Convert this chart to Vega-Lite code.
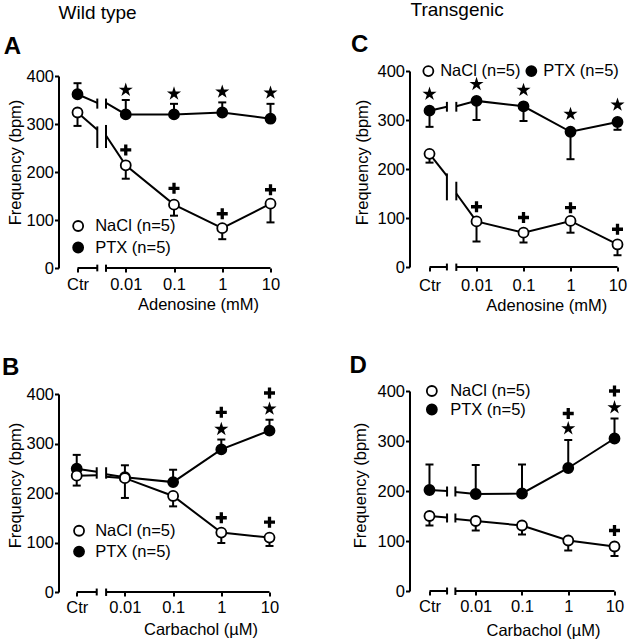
{
  "$schema": "https://vega.github.io/schema/vega-lite/v6.json",
  "padding": {"left": 1.5, "top": 1, "right": 0, "bottom": 0},
  "autosize": {"type": "pad"},
  "background": "white",
  "datasets": {
    "A": [
      {"k":"ax","x":0,"x2":0.41,"v":0},
      {"k":"ax","x":0.59,"x2":4,"v":0},
      {"k":"cap","x":0.41,"v":-7,"e":7},
      {"k":"cap","x":0.59,"v":-8,"e":7},
      {"k":"cap","x":0.41,"v":332,"e":353},
      {"k":"cap","x":0.59,"v":332,"e":353},
      {"k":"cap","x":0.41,"v":250,"e":295},
      {"k":"cap","x":0.59,"v":250,"e":298},
      {"k":"brk","g":"PTX","s":"L","x":0.41,"v":344},
      {"k":"brk","g":"PTX","s":"R","x":0.59,"v":344},
      {"k":"brk","g":"NaCl","s":"L","x":0.41,"v":288},
      {"k":"brk","g":"NaCl","s":"R","x":0.59,"v":276},
      {"k":"pt","g":"PTX","s":"L","x":0,"v":362,"e":385},
      {"k":"pt","g":"PTX","s":"R","x":1,"v":320,"e":350},
      {"k":"pt","g":"PTX","s":"R","x":2,"v":320,"e":342},
      {"k":"pt","g":"PTX","s":"R","x":3,"v":324,"e":345},
      {"k":"pt","g":"PTX","s":"R","x":4,"v":311,"e":342},
      {"k":"pt","g":"NaCl","s":"L","x":0,"v":324,"e":296},
      {"k":"pt","g":"NaCl","s":"R","x":1,"v":214,"e":186},
      {"k":"pt","g":"NaCl","s":"R","x":2,"v":132,"e":109},
      {"k":"pt","g":"NaCl","s":"R","x":3,"v":83,"e":60},
      {"k":"pt","g":"NaCl","s":"R","x":4,"v":134,"e":95},
      {"k":"star","x":1,"v":371},
      {"k":"star","x":2,"v":363},
      {"k":"star","x":3,"v":367},
      {"k":"star","x":4,"v":365},
      {"k":"plus","x":1,"v":246},
      {"k":"plus","x":2,"v":166},
      {"k":"plus","x":3,"v":113},
      {"k":"plus","x":4,"v":163}
    ],
    "B": [
      {"k":"ax","x":0,"x2":0.415,"v":0},
      {"k":"ax","x":0.61,"x2":4,"v":0},
      {"k":"cap","x":0.415,"v":-7,"e":7},
      {"k":"cap","x":0.61,"v":-8,"e":7},
      {"k":"cap","x":0.415,"v":229,"e":252},
      {"k":"cap","x":0.61,"v":229,"e":252},
      {"k":"brk","g":"PTX","s":"L","x":0.415,"v":243},
      {"k":"brk","g":"PTX","s":"R","x":0.61,"v":238},
      {"k":"brk","g":"NaCl","s":"L","x":0.415,"v":236},
      {"k":"brk","g":"NaCl","s":"R","x":0.61,"v":233},
      {"k":"pt","g":"PTX","s":"L","x":0,"v":249,"e":277},
      {"k":"pt","g":"PTX","s":"R","x":1,"v":232,"e":256},
      {"k":"pt","g":"PTX","s":"R","x":2,"v":222,"e":247},
      {"k":"pt","g":"PTX","s":"R","x":3,"v":288,"e":308},
      {"k":"pt","g":"PTX","s":"R","x":4,"v":326,"e":348},
      {"k":"pt","g":"NaCl","s":"L","x":0,"v":235,"e":215},
      {"k":"pt","g":"NaCl","s":"R","x":1,"v":230,"e":190},
      {"k":"pt","g":"NaCl","s":"R","x":2,"v":194,"e":173},
      {"k":"pt","g":"NaCl","s":"R","x":3,"v":120,"e":99},
      {"k":"pt","g":"NaCl","s":"R","x":4,"v":110,"e":93},
      {"k":"star","x":3,"v":329},
      {"k":"star","x":4,"v":370},
      {"k":"plus","x":3,"v":363},
      {"k":"plus","x":4,"v":402},
      {"k":"plus","x":3,"v":150},
      {"k":"plus","x":4,"v":141}
    ],
    "C": [
      {"k":"ax","x":0,"x2":0.37,"v":0},
      {"k":"ax","x":0.57,"x2":4,"v":0},
      {"k":"cap","x":0.37,"v":-7,"e":7},
      {"k":"cap","x":0.57,"v":-8,"e":7},
      {"k":"cap","x":0.37,"v":317,"e":337},
      {"k":"cap","x":0.57,"v":317,"e":337},
      {"k":"cap","x":0.37,"v":136,"e":191},
      {"k":"cap","x":0.57,"v":136,"e":174},
      {"k":"brk","g":"PTX","s":"L","x":0.37,"v":327},
      {"k":"brk","g":"PTX","s":"R","x":0.57,"v":328},
      {"k":"brk","g":"NaCl","s":"L","x":0.37,"v":186},
      {"k":"brk","g":"NaCl","s":"R","x":0.57,"v":150},
      {"k":"pt","g":"PTX","s":"L","x":0,"v":319,"e":286},
      {"k":"pt","g":"PTX","s":"R","x":1,"v":339,"e":300},
      {"k":"pt","g":"PTX","s":"R","x":2,"v":328,"e":298},
      {"k":"pt","g":"PTX","s":"R","x":3,"v":276,"e":220},
      {"k":"pt","g":"PTX","s":"R","x":4,"v":296,"e":280},
      {"k":"pt","g":"NaCl","s":"L","x":0,"v":231,"e":213},
      {"k":"pt","g":"NaCl","s":"R","x":1,"v":93,"e":52},
      {"k":"pt","g":"NaCl","s":"R","x":2,"v":70,"e":50},
      {"k":"pt","g":"NaCl","s":"R","x":3,"v":94,"e":70},
      {"k":"pt","g":"NaCl","s":"R","x":4,"v":46,"e":24},
      {"k":"star","x":0,"v":353},
      {"k":"star","x":1,"v":373},
      {"k":"star","x":2,"v":361},
      {"k":"star","x":3,"v":312},
      {"k":"star","x":4,"v":331},
      {"k":"plus","x":1,"v":123},
      {"k":"plus","x":2,"v":101},
      {"k":"plus","x":3,"v":121},
      {"k":"plus","x":4,"v":77}
    ],
    "D": [
      {"k":"ax","x":0,"x2":0.38,"v":0},
      {"k":"ax","x":0.56,"x2":4,"v":0},
      {"k":"cap","x":0.38,"v":-7,"e":7},
      {"k":"cap","x":0.56,"v":-8,"e":7},
      {"k":"cap","x":0.38,"v":189,"e":209},
      {"k":"cap","x":0.56,"v":189,"e":209},
      {"k":"cap","x":0.38,"v":137,"e":155},
      {"k":"cap","x":0.56,"v":137,"e":155},
      {"k":"brk","g":"PTX","s":"L","x":0.38,"v":200},
      {"k":"brk","g":"PTX","s":"R","x":0.56,"v":198},
      {"k":"brk","g":"NaCl","s":"L","x":0.38,"v":147},
      {"k":"brk","g":"NaCl","s":"R","x":0.56,"v":144},
      {"k":"pt","g":"PTX","s":"L","x":0,"v":202,"e":253},
      {"k":"pt","g":"PTX","s":"R","x":1,"v":194,"e":252},
      {"k":"pt","g":"PTX","s":"R","x":2,"v":195,"e":253},
      {"k":"pt","g":"PTX","s":"R","x":3,"v":246,"e":302},
      {"k":"pt","g":"PTX","s":"R","x":4,"v":305,"e":345},
      {"k":"pt","g":"NaCl","s":"L","x":0,"v":150,"e":131},
      {"k":"pt","g":"NaCl","s":"R","x":1,"v":140,"e":121},
      {"k":"pt","g":"NaCl","s":"R","x":2,"v":131,"e":113},
      {"k":"pt","g":"NaCl","s":"R","x":3,"v":101,"e":81},
      {"k":"pt","g":"NaCl","s":"R","x":4,"v":89,"e":70},
      {"k":"star","x":3,"v":325},
      {"k":"star","x":4,"v":367},
      {"k":"plus","x":3,"v":355},
      {"k":"plus","x":4,"v":400},
      {"k":"plus","x":4,"v":121}
    ]
  },
  "hconcat": [
    {
      "title": {"text": "Wild type", "anchor": "start", "frame": "group", "fontSize": 19, "fontWeight": "normal", "font": "Liberation Sans", "baseline": "alphabetic", "offset": -2.6, "color": "black"},
      "vconcat": [
        {
          "width": 212, "height": 197,
          "title": {"text": "A", "anchor": "start", "frame": "group", "dx": -54.7, "offset": -10.25, "fontSize": 24, "fontWeight": "bold", "font": "Liberation Sans", "baseline": "alphabetic", "color": "black"},
          "data": {"name": "A"},
          "encoding": {
            "x": {"field": "x", "type": "quantitative", "title": "Adenosine (mM)", "scale": {"domain": [-0.394, 4], "nice": false, "zero": false},
              "axis": {"values": [0,1,2,3,4], "labelExpr": "['Ctr','0.01','0.1','1','10'][datum.value]", "domain": false, "tickSize": 4, "labelBaseline": "alphabetic", "labelPadding": 17.7, "titleX": 139.5, "titleY": 41.7, "titleBaseline": "alphabetic", "titleAlign": "center"}},
            "y": {"field": "v", "type": "quantitative", "title": "Frequency (bpm)", "scale": {"domain": [0, 400], "range": [197, 5], "nice": false},
              "axis": {"values": [0,100,200,300,400], "tickSize": 4, "labelPadding": 1, "titleX": -38, "titleY": 91, "titleBaseline": "alphabetic", "titleAlign": "center", "titleAngle": 270}}
          },
          "layer": [
            {"transform": [{"filter": "datum.k=='ax'"}], "mark": {"type": "rule", "strokeWidth": 2, "color": "black"}, "encoding": {"x2": {"field": "x2"}}},
            {"transform": [{"filter": "datum.k=='pt'||datum.k=='cap'"}], "mark": {"type": "rule", "strokeWidth": 2, "color": "black"}, "encoding": {"y2": {"field": "e"}}},
            {"transform": [{"filter": "datum.k=='pt'"}], "mark": {"type": "tick", "orient": "horizontal", "size": 8, "thickness": 2, "color": "black", "opacity": 1},
              "encoding": {"y": {"field": "e", "type": "quantitative", "title": "Frequency (bpm)", "scale": {"domain": [0, 400], "range": [197, 5], "nice": false}}}},
            {"transform": [{"filter": "datum.k=='pt'||datum.k=='brk'"}], "mark": {"type": "line", "strokeWidth": 2, "color": "black"}, "encoding": {"detail": [{"field": "g"}, {"field": "s"}]}},
            {"transform": [{"filter": "datum.k=='pt'"}], "mark": {"type": "point", "filled": true, "stroke": "black", "strokeWidth": 1.8, "size": 100, "opacity": 1},
              "encoding": {"fill": {"field": "g", "type": "nominal", "scale": {"domain": ["NaCl", "PTX"], "range": ["white", "black"]},
                "legend": {"title": null, "orient": "none", "legendX": 11.4, "legendY": 146.75, "direction": "vertical", "rowPadding": 3.5, "labelOffset": 8.8, "labelExpr": "datum.label + ' (n=5)'"}}}},
            {"transform": [{"filter": "datum.k=='star'"}], "mark": {"type": "point", "shape": "M0,-1L0.2245,-0.309L0.951,-0.309L0.363,0.118L0.588,0.809L0,0.382L-0.588,0.809L-0.363,0.118L-0.951,-0.309L-0.2245,-0.309Z", "filled": true, "color": "black", "size": 220, "opacity": 1}},
            {"transform": [{"filter": "datum.k=='plus'"}], "mark": {"type": "point", "shape": "M-1,-0.3H-0.3V-1H0.3V-0.3H1V0.3H0.3V1H-0.3V0.3H-1Z", "filled": true, "color": "black", "size": 121, "opacity": 1}}
          ]
        },
        {
          "width": 211, "height": 200,
          "title": {"text": "B", "anchor": "start", "frame": "group", "dx": -56.5, "offset": -12.85, "fontSize": 24, "fontWeight": "bold", "font": "Liberation Sans", "baseline": "alphabetic", "color": "black"},
          "data": {"name": "B"},
          "encoding": {
            "x": {"field": "x", "type": "quantitative", "title": "Carbachol (µM)", "scale": {"domain": [-0.378, 4], "nice": false, "zero": false},
              "axis": {"values": [0,1,2,3,4], "labelExpr": "['Ctr','0.01','0.1','1','10'][datum.value]", "domain": false, "tickSize": 4, "labelBaseline": "alphabetic", "labelPadding": 16, "titleX": 142, "titleY": 42, "titleBaseline": "alphabetic", "titleAlign": "center"}},
            "y": {"field": "v", "type": "quantitative", "title": "Frequency (bpm)", "scale": {"domain": [0, 400], "range": [200, 2], "nice": false},
              "axis": {"values": [0,100,200,300,400], "tickSize": 4, "labelPadding": 1, "titleX": -38.5, "titleY": 93, "titleBaseline": "alphabetic", "titleAlign": "center", "titleAngle": 270}}
          },
          "layer": [
            {"transform": [{"filter": "datum.k=='ax'"}], "mark": {"type": "rule", "strokeWidth": 2, "color": "black"}, "encoding": {"x2": {"field": "x2"}}},
            {"transform": [{"filter": "datum.k=='pt'||datum.k=='cap'"}], "mark": {"type": "rule", "strokeWidth": 2, "color": "black"}, "encoding": {"y2": {"field": "e"}}},
            {"transform": [{"filter": "datum.k=='pt'"}], "mark": {"type": "tick", "orient": "horizontal", "size": 8, "thickness": 2, "color": "black", "opacity": 1},
              "encoding": {"y": {"field": "e", "type": "quantitative", "title": "Frequency (bpm)", "scale": {"domain": [0, 400], "range": [200, 2], "nice": false}}}},
            {"transform": [{"filter": "datum.k=='pt'||datum.k=='brk'"}], "mark": {"type": "line", "strokeWidth": 2, "color": "black"}, "encoding": {"detail": [{"field": "g"}, {"field": "s"}]}},
            {"transform": [{"filter": "datum.k=='pt'"}], "mark": {"type": "point", "filled": true, "stroke": "black", "strokeWidth": 1.8, "size": 100, "opacity": 1},
              "encoding": {"fill": {"field": "g", "type": "nominal", "scale": {"domain": ["NaCl", "PTX"], "range": ["white", "black"]},
                "legend": {"title": null, "orient": "none", "legendX": 12.3, "legendY": 130.5, "direction": "vertical", "rowPadding": 2.8, "labelOffset": 7.9, "labelExpr": "datum.label + ' (n=5)'"}}}},
            {"transform": [{"filter": "datum.k=='star'"}], "mark": {"type": "point", "shape": "M0,-1L0.2245,-0.309L0.951,-0.309L0.363,0.118L0.588,0.809L0,0.382L-0.588,0.809L-0.363,0.118L-0.951,-0.309L-0.2245,-0.309Z", "filled": true, "color": "black", "size": 220, "opacity": 1}},
            {"transform": [{"filter": "datum.k=='plus'"}], "mark": {"type": "point", "shape": "M-1,-0.3H-0.3V-1H0.3V-0.3H1V0.3H0.3V1H-0.3V0.3H-1Z", "filled": true, "color": "black", "size": 121, "opacity": 1}}
          ]
        }
      ],
      "spacing": 124,
      "bounds": "flush",
      "resolve": {"scale": {"fill": "independent"}, "legend": {"fill": "independent"}}
    },
    {
      "title": {"text": "Transgenic", "anchor": "start", "frame": "group", "dx": 1, "fontSize": 19, "fontWeight": "normal", "font": "Liberation Sans", "baseline": "alphabetic", "offset": -2.4, "color": "black"},
      "vconcat": [
        {
          "width": 208, "height": 196,
          "title": {"text": "C", "anchor": "start", "frame": "group", "dx": -58.5, "offset": -12.85, "fontSize": 24, "fontWeight": "bold", "font": "Liberation Sans", "baseline": "alphabetic", "color": "black"},
          "data": {"name": "C"},
          "encoding": {
            "x": {"field": "x", "type": "quantitative", "title": "Adenosine (mM)", "scale": {"domain": [-0.426, 4], "nice": false, "zero": false},
              "axis": {"values": [0,1,2,3,4], "labelExpr": "['Ctr','0.01','0.1','1','10'][datum.value]", "domain": false, "tickSize": 4, "labelBaseline": "alphabetic", "labelPadding": 19.3, "titleX": 136.8, "titleY": 43.3, "titleBaseline": "alphabetic", "titleAlign": "center"}},
            "y": {"field": "v", "type": "quantitative", "title": "Frequency (bpm)", "scale": {"domain": [0, 400], "range": [196, 0], "nice": false},
              "axis": {"values": [0,100,200,300,400], "tickSize": 4, "labelPadding": 1, "titleX": -42.3, "titleY": 91, "titleBaseline": "alphabetic", "titleAlign": "center", "titleAngle": 270}}
          },
          "layer": [
            {"transform": [{"filter": "datum.k=='ax'"}], "mark": {"type": "rule", "strokeWidth": 2, "color": "black"}, "encoding": {"x2": {"field": "x2"}}},
            {"transform": [{"filter": "datum.k=='pt'||datum.k=='cap'"}], "mark": {"type": "rule", "strokeWidth": 2, "color": "black"}, "encoding": {"y2": {"field": "e"}}},
            {"transform": [{"filter": "datum.k=='pt'"}], "mark": {"type": "tick", "orient": "horizontal", "size": 8, "thickness": 2, "color": "black", "opacity": 1},
              "encoding": {"y": {"field": "e", "type": "quantitative", "title": "Frequency (bpm)", "scale": {"domain": [0, 400], "range": [196, 0], "nice": false}}}},
            {"transform": [{"filter": "datum.k=='pt'||datum.k=='brk'"}], "mark": {"type": "line", "strokeWidth": 2, "color": "black"}, "encoding": {"detail": [{"field": "g"}, {"field": "s"}]}},
            {"transform": [{"filter": "datum.k=='pt'"}], "mark": {"type": "point", "filled": true, "stroke": "black", "strokeWidth": 1.8, "size": 100, "opacity": 1},
              "encoding": {"fill": {"field": "g", "type": "nominal", "scale": {"domain": ["NaCl", "PTX"], "range": ["white", "black"]},
                "legend": {"title": null, "orient": "none", "legendX": 10.6, "legendY": -8.25, "direction": "horizontal", "columns": 2, "columnPadding": 1, "labelOffset": 3.6, "labelExpr": "datum.label + ' (n=5)'"}}}},
            {"transform": [{"filter": "datum.k=='star'"}], "mark": {"type": "point", "shape": "M0,-1L0.2245,-0.309L0.951,-0.309L0.363,0.118L0.588,0.809L0,0.382L-0.588,0.809L-0.363,0.118L-0.951,-0.309L-0.2245,-0.309Z", "filled": true, "color": "black", "size": 220, "opacity": 1}},
            {"transform": [{"filter": "datum.k=='plus'"}], "mark": {"type": "point", "shape": "M-1,-0.3H-0.3V-1H0.3V-0.3H1V0.3H0.3V1H-0.3V0.3H-1Z", "filled": true, "color": "black", "size": 121, "opacity": 1}}
          ]
        },
        {
          "width": 205, "height": 200,
          "title": {"text": "D", "anchor": "start", "frame": "group", "dx": -60, "offset": -14.65, "fontSize": 24, "fontWeight": "bold", "font": "Liberation Sans", "baseline": "alphabetic", "color": "black"},
          "data": {"name": "D"},
          "encoding": {
            "x": {"field": "x", "type": "quantitative", "title": "Carbachol (µM)", "scale": {"domain": [-0.432, 4], "nice": false, "zero": false},
              "axis": {"values": [0,1,2,3,4], "labelExpr": "['Ctr','0.01','0.1','1','10'][datum.value]", "domain": false, "tickSize": 4, "labelBaseline": "alphabetic", "labelPadding": 16, "titleX": 133.5, "titleY": 44, "titleBaseline": "alphabetic", "titleAlign": "center"}},
            "y": {"field": "v", "type": "quantitative", "title": "Frequency (bpm)", "scale": {"domain": [0, 400], "range": [200, 0], "nice": false},
              "axis": {"values": [0,100,200,300,400], "tickSize": 4, "labelPadding": 1, "titleX": -44, "titleY": 94, "titleBaseline": "alphabetic", "titleAlign": "center", "titleAngle": 270}}
          },
          "layer": [
            {"transform": [{"filter": "datum.k=='ax'"}], "mark": {"type": "rule", "strokeWidth": 2, "color": "black"}, "encoding": {"x2": {"field": "x2"}}},
            {"transform": [{"filter": "datum.k=='pt'||datum.k=='cap'"}], "mark": {"type": "rule", "strokeWidth": 2, "color": "black"}, "encoding": {"y2": {"field": "e"}}},
            {"transform": [{"filter": "datum.k=='pt'"}], "mark": {"type": "tick", "orient": "horizontal", "size": 8, "thickness": 2, "color": "black", "opacity": 1},
              "encoding": {"y": {"field": "e", "type": "quantitative", "title": "Frequency (bpm)", "scale": {"domain": [0, 400], "range": [200, 0], "nice": false}}}},
            {"transform": [{"filter": "datum.k=='pt'||datum.k=='brk'"}], "mark": {"type": "line", "strokeWidth": 2, "color": "black"}, "encoding": {"detail": [{"field": "g"}, {"field": "s"}]}},
            {"transform": [{"filter": "datum.k=='pt'"}], "mark": {"type": "point", "filled": true, "stroke": "black", "strokeWidth": 1.8, "size": 100, "opacity": 1},
              "encoding": {"fill": {"field": "g", "type": "nominal", "scale": {"domain": ["NaCl", "PTX"], "range": ["white", "black"]},
                "legend": {"title": null, "orient": "none", "legendX": 14.1, "legendY": -8.25, "direction": "vertical", "rowPadding": 0.5, "labelOffset": 10.1, "labelExpr": "datum.label + ' (n=5)'"}}}},
            {"transform": [{"filter": "datum.k=='star'"}], "mark": {"type": "point", "shape": "M0,-1L0.2245,-0.309L0.951,-0.309L0.363,0.118L0.588,0.809L0,0.382L-0.588,0.809L-0.363,0.118L-0.951,-0.309L-0.2245,-0.309Z", "filled": true, "color": "black", "size": 220, "opacity": 1}},
            {"transform": [{"filter": "datum.k=='plus'"}], "mark": {"type": "point", "shape": "M-1,-0.3H-0.3V-1H0.3V-0.3H1V0.3H0.3V1H-0.3V0.3H-1Z", "filled": true, "color": "black", "size": 121, "opacity": 1}}
          ]
        }
      ],
      "spacing": 124,
      "bounds": "flush",
      "resolve": {"scale": {"fill": "independent"}, "legend": {"fill": "independent"}}
    }
  ],
  "spacing": 351,
  "bounds": "flush",
  "resolve": {"scale": {"fill": "independent"}, "legend": {"fill": "independent"}},
  "config": {
    "view": {"stroke": null},
    "font": "Liberation Sans",
    "axis": {"labelFont": "Liberation Sans", "titleFont": "Liberation Sans", "labelFontSize": 16.5, "titleFontSize": 16.5, "labelColor": "black", "titleColor": "black", "titleFontWeight": "normal", "tickColor": "black", "domainColor": "black", "tickWidth": 2, "domainWidth": 2, "grid": false, "labelFlush": false, "labelOverlap": false, "labelBound": false},
    "legend": {"labelFont": "Liberation Sans", "labelFontSize": 16.5, "labelColor": "black", "symbolType": "circle", "symbolSize": 100, "symbolStrokeColor": "black", "symbolStrokeWidth": 1.8, "symbolOpacity": 1, "padding": 0, "labelLimit": 300},
    "point": {"opacity": 1},
    "tick": {"opacity": 1}
  }
}
